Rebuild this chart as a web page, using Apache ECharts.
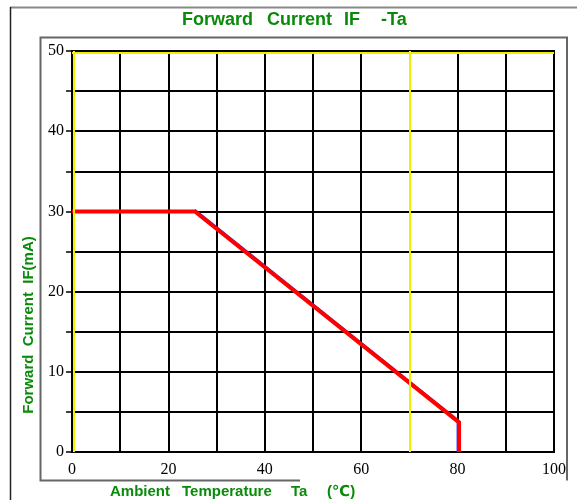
<!DOCTYPE html>
<html>
<head>
<meta charset="utf-8">
<script src="https://cdn.jsdelivr.net/npm/echarts@6/dist/echarts.min.js"></script>
<style>html,body{margin:0;padding:0;background:#fff;}#c{width:577px;height:500px;}</style>
</head>
<body>
<div id="c"></div>
<script>
// Data
const titleWords = ['Forward', 'Current', 'IF', '-Ta'];
const xNameWords = ['Ambient', 'Temperature', 'Ta', '(\u2103)'];
const yName = 'Forward  Current  IF(mA)';
const tempTa = [0, 25.5, 80.3, 80.3];
const currentIF = [30, 30, 3.7, 0];
const blueTa = [25.5, 80, 80];
const blueIF = [30.2, 4.0, 0];
const xTickLabels = [0, 20, 40, 60, 80, 100];
const yTickLabels = [0, 10, 20, 30, 40, 50];
const yellowX = [0.35, 70];
const yellowY = [49.8];

// layout (pixels) for text pieces
const titleLeft = [182, 267, 344, 381];
const xNameLeft = [110, 182, 291, 327];

const green = '#0a8a0a';
const chart = echarts.init(document.getElementById('c'), null, {renderer: 'canvas'});

const textPieces = [];
titleWords.forEach((w, i) => textPieces.push({
  type: 'text', x: titleLeft[i], y: 20, z: 100,
  style: {text: w, textAlign: 'left', textVerticalAlign: 'middle', fontFamily: 'Liberation Sans, Arial', fontWeight: 'bold', fontSize: 18, fill: green}
}));
xNameWords.forEach((w, i) => textPieces.push({
  type: 'text', x: xNameLeft[i], y: 492, z: 100,
  style: {text: w, textAlign: 'left', textVerticalAlign: 'middle', fontFamily: 'Liberation Sans, DejaVu Sans, Arial', fontWeight: 'bold', fontSize: 15, fill: green}
}));

chart.setOption({
  animation: false,
  backgroundColor: '#fff',
  grid: {left: 72, right: 23, top: 51, bottom: 48, show: true, borderColor: '#000', borderWidth: 2, backgroundColor: '#fff'},
  xAxis: {
    type: 'value', min: 0, max: 100, interval: 10,
    axisLine: {show: true, lineStyle: {color: '#000', width: 2}},
    axisTick: {show: false},
    splitLine: {show: true, lineStyle: {color: '#000', width: 2}},
    axisLabel: {
      margin: 10, color: '#000', fontFamily: 'Liberation Serif, Times New Roman', fontSize: 16,
      formatter: v => xTickLabels.includes(v) ? String(v) : ''
    }
  },
  yAxis: {
    type: 'value', min: 0, max: 50, interval: 5,
    axisLine: {show: true, lineStyle: {color: '#000', width: 2}},
    axisTick: {show: true, length: 6, lineStyle: {color: '#000', width: 1.5}},
    splitLine: {show: true, lineStyle: {color: '#000', width: 2}},
    axisLabel: {
      margin: 8, color: '#000', fontFamily: 'Liberation Serif, Times New Roman', fontSize: 16,
      formatter: v => yTickLabels.includes(v) ? String(v) : ''
    }
  },
  series: [
    {
      type: 'line', silent: true, symbol: 'none',
      data: blueTa.map((x, i) => [x, blueIF[i]]),
      lineStyle: {color: '#2020ff', width: 2},
      markLine: {
        silent: true, symbol: 'none', label: {show: false},
        lineStyle: {color: '#f0f000', width: 2, type: 'solid'},
        data: yellowX.map(v => ({xAxis: v})).concat(yellowY.map(v => ({yAxis: v})))
      }
    },
    {
      type: 'line', silent: true, symbol: 'none',
      data: tempTa.map((x, i) => [x, currentIF[i]]),
      lineStyle: {color: '#ff0000', width: 4, join: 'miter'}
    }
  ],
  graphic: [
    {type: 'line', shape: {x1: 10, y1: 7.5, x2: 577, y2: 7.5}, style: {stroke: '#888', lineWidth: 2}, z: 100},
    {type: 'line', shape: {x1: 10.5, y1: 7, x2: 10.5, y2: 500}, style: {stroke: '#222', lineWidth: 1.5}, z: 100},
    {type: 'polyline', shape: {points: [[300, 480.5], [40.5, 480.5], [40.5, 37.5], [567, 37.5], [567, 480.5]]}, style: {stroke: '#666', lineWidth: 2, fill: null}, z: 100},
    {type: 'text', x: 29, y: 325, rotation: Math.PI / 2, z: 100, style: {text: yName, textAlign: 'center', textVerticalAlign: 'middle', fontFamily: 'Liberation Sans, Arial', fontWeight: 'bold', fontSize: 15, fill: green}}
  ].concat(textPieces)
});
</script>
</body>
</html>
